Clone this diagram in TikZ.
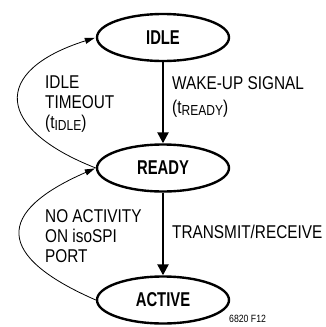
\documentclass[tikz,border=0pt]{standalone}
\usepackage{fontspec}
\setmainfont{Liberation Sans}[FakeStretch=0.83]
\newfontfamily\boldlbl{Liberation Sans}[FakeStretch=0.74]
\usetikzlibrary{arrows.meta,shapes.geometric}
\tikzset{
  statebox/.style={ellipse, draw, line width=2.4pt, minimum width=132pt, minimum height=47pt, inner sep=0pt,
    font=\boldlbl\bfseries\fontsize{20}{20}\selectfont},
  lbl/.style={anchor=base west, inner sep=0pt, font=\fontsize{18.5}{18.5}\selectfont},
  mainarrow/.style={line width=2.4pt, -{Triangle[length=11pt,width=11pt]}},
  backarrow/.style={line width=0.8pt, -{Triangle[length=10pt,width=6pt]}, shorten >=1pt},
}
\newcommand{\subtxt}[1]{\raisebox{-2pt}{\fontsize{14.5}{14.5}\selectfont #1}}
\begin{document}
\begin{tikzpicture}[x=1pt,y=-1pt]
\useasboundingbox (0,0) rectangle (325,327);
\node[statebox] (idle) at (163,37.5) {IDLE};
\node[statebox] (ready) at (163,168) {READY};
\node[statebox] (active) at (163,300) {ACTIVE};
\draw[mainarrow] (idle) -- (ready);
\draw[mainarrow] (ready) -- (active);
\draw[backarrow] (ready.west) .. controls (-4,129) and (-10,71) .. (idle.west);
\draw[backarrow] (active.west) .. controls (-5,256) and (-5,212) .. (ready.west);
\node[lbl] (w1) at (172,89.3) {WAKE-UP SIGNAL};
\node[lbl] (w2) at (172,113) {(t\subtxt{READY})};
\node[lbl] (i1) at (45,88.3) {IDLE};
\node[lbl] (i2) at (45,108.3) {TIMEOUT};
\node[lbl] (i3) at (45,128.3) {(t\subtxt{IDLE})};
\node[lbl] (t1) at (172,238.5) {TRANSMIT/RECEIVE};
\node[lbl] (n1) at (45,222) {NO ACTIVITY};
\node[lbl] (n2) at (45,242) {ON isoSPI};
\node[lbl] (n3) at (45,262.5) {PORT};
\node[anchor=base west, inner sep=0pt, font=\fontsize{10.5}{10.5}\selectfont] (fig) at (229,322) {6820 F12};
\end{tikzpicture}
\end{document}
